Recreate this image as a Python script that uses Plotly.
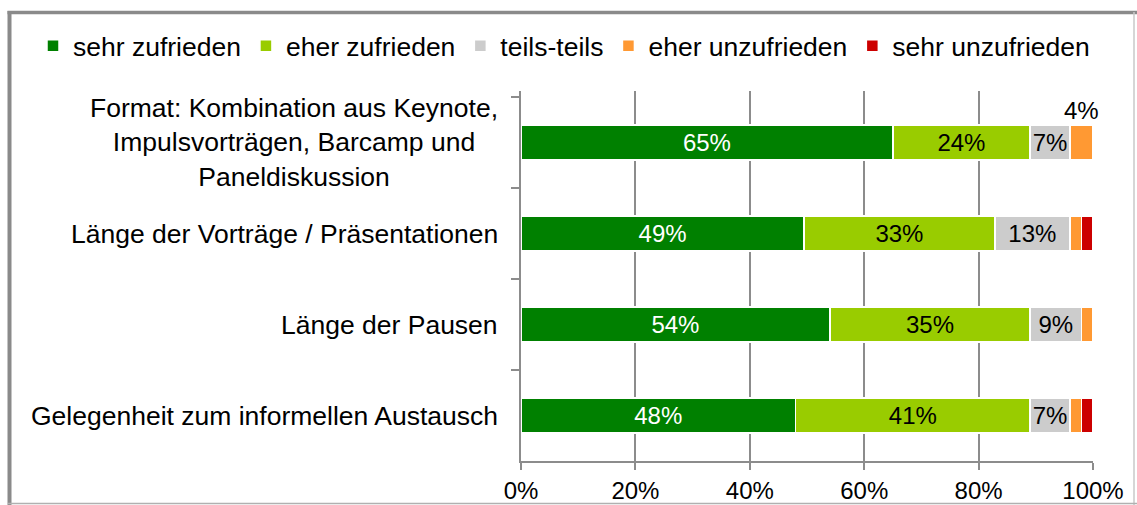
import plotly.graph_objects as go

categories = [
    "Format: Kombination aus Keynote,<br>Impulsvorträgen, Barcamp und<br>Paneldiskussion",
    "Länge der Vorträge / Präsentationen",
    "Länge der Pausen",
    "Gelegenheit zum informellen Austausch",
]
series_names = ["sehr zufrieden", "eher zufrieden", "teils-teils", "eher unzufrieden", "sehr unzufrieden"]
sehr_zufrieden = [65, 49, 54, 48]
eher_zufrieden = [24, 33, 35, 41]
teils_teils = [7, 13, 9, 7]
eher_unzufrieden = [4, 2, 2, 2]
sehr_unzufrieden = [0, 2, 0, 2]
colors = ["#008000", "#99CC00", "#CCCCCC", "#FF9933", "#CC0000"]
text_colors = ["white", "black", "black", "black", "black"]
x_ticks = [0, 20, 40, 60, 80, 100]

all_series = [sehr_zufrieden, eher_zufrieden, teils_teils, eher_unzufrieden, sehr_unzufrieden]

FONT = "Liberation Sans, Arial, sans-serif"
fig = go.Figure()
for name, vals, col, tcol in zip(series_names, all_series, colors, text_colors):
    txt = [f"{v}%" if v >= 5 else "" for v in vals]
    fig.add_trace(go.Bar(
        y=categories, x=vals, name=name, orientation="h",
        marker=dict(color=col, line=dict(color="white", width=1.5)),
        text=txt, textposition="inside", insidetextanchor="middle",
        textangle=0, constraintext="none",
        textfont=dict(color=tcol, size=24, family=FONT),
        hoverinfo="skip",
    ))

# outside label for the small orange segment in first bar
totals = [sum(s[i] for s in all_series) for i in range(len(categories))]
i0 = 0
cum_before = sehr_zufrieden[i0] + eher_zufrieden[i0] + teils_teils[i0]
xpos = (cum_before + eher_unzufrieden[i0] / 2) / totals[i0] * 100
annotations = [dict(x=xpos, y=categories[i0], xref="x", yref="y", text=f"{eher_unzufrieden[i0]}%",
                    showarrow=False, yshift=32, font=dict(size=24, color="black", family=FONT))]
for c in categories:
    annotations.append(dict(x=0, y=c, xref="paper", yref="y", text=c, showarrow=False,
                            xanchor="right", align="center", xshift=-21,
                            font=dict(size=26.5, color="black", family=FONT)))

W, H = 1137, 505
L, R, T, B = 521, 44, 91, 44
pw, ph = W - L - R, H - T - B
def px2x(px):
    return (px - L) / pw
def py2y(py):
    return (H - B - py) / ph

shapes = [
    dict(type="line", xref="paper", yref="paper", x0=px2x(9.5), x1=px2x(9.5), y0=py2y(11), y1=py2y(505),
         line=dict(color="#8a8a8a", width=4)),
    dict(type="line", xref="paper", yref="paper", x0=px2x(7.5), x1=px2x(1137), y0=py2y(12.5), y1=py2y(12.5),
         line=dict(color="#8a8a8a", width=3.5)),
    dict(type="line", xref="paper", yref="paper", x0=px2x(1134), x1=px2x(1134), y0=py2y(12), y1=py2y(505),
         line=dict(color="#c8c8c8", width=1.5)),
    dict(type="line", xref="paper", yref="paper", x0=px2x(8), x1=px2x(1137), y0=py2y(503.5), y1=py2y(503.5),
         line=dict(color="#b0b0b0", width=1.5)),
]

fig.update_layout(
    width=W, height=H, barmode="stack", barnorm="percent", bargap=0.615,
    margin=dict(l=L, r=R, t=T, b=B, autoexpand=False),
    paper_bgcolor="white", plot_bgcolor="white",
    font=dict(family=FONT, size=24, color="black"),
    showlegend=True,
    legend=dict(orientation="h", xref="paper", yref="paper", x=px2x(33), xanchor="left",
                y=py2y(46), yanchor="middle", font=dict(size=26.5, family=FONT),
                traceorder="normal", itemclick=False, tracegroupgap=0,
                bgcolor="rgba(0,0,0,0)"),
    xaxis=dict(range=[0, 100], tickvals=x_ticks, ticktext=[f"{t}%" for t in x_ticks],
               showgrid=True, gridcolor="#8c8c8c", gridwidth=1.5,
               showline=True, linecolor="#8c8c8c", linewidth=1.5,
               ticks="outside", ticklen=7, tickcolor="#8c8c8c", tickwidth=1.5,
               tickfont=dict(size=24, family=FONT), zeroline=False, fixedrange=True),
    yaxis=dict(autorange="reversed", showticklabels=False, showgrid=False,
               showline=True, linecolor="#8c8c8c", linewidth=1.5,
               ticks="outside", tickson="boundaries", ticklen=8, tickcolor="#8c8c8c", tickwidth=1.5,
               fixedrange=True),
    annotations=annotations, shapes=shapes,
)
fig.write_html("out.html", config={"displayModeBar": False},
               post_script="document.body.style.margin='0';document.body.style.overflow='hidden';")
